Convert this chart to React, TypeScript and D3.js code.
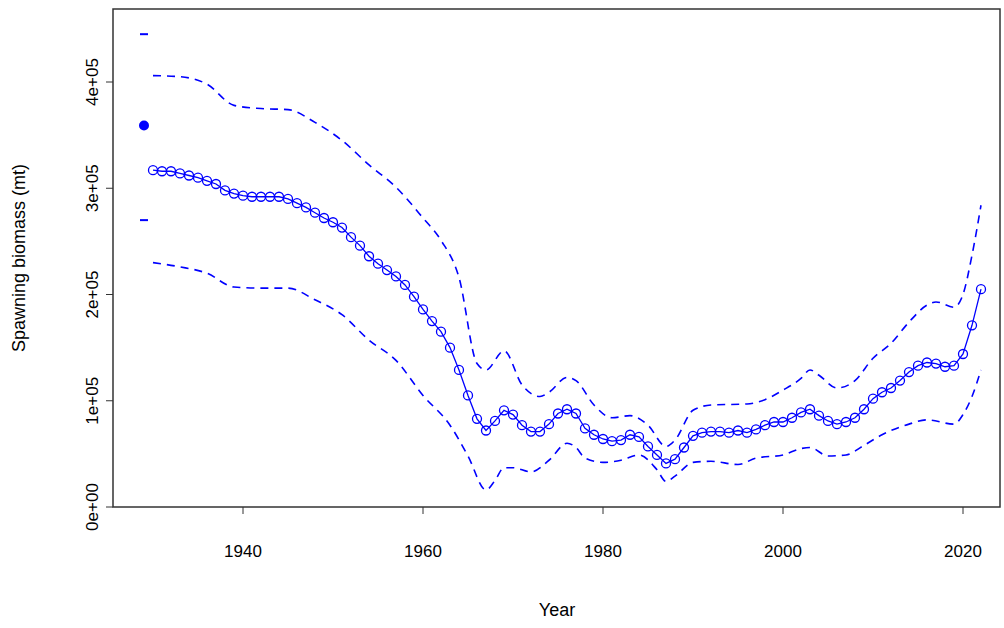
import React from 'react';
import * as d3 from 'd3';

const years = d3.range(1930, 2023);
const biomass = [
  317, 316, 316, 314, 312, 310, 307, 304, 298, 295,
  293, 292, 292, 292, 292, 290, 286, 282, 277, 272,
  268, 263, 254, 246, 236, 229, 223, 217, 209, 198,
  186, 175, 165, 150, 129, 105, 83, 72, 81, 91,
  87, 77, 71, 71, 78, 88, 92, 88, 74, 68,
  64, 62, 63, 68, 66, 57, 49, 41, 45, 56,
  67, 70, 71, 71, 70, 72, 70, 73, 77, 80,
  80, 84, 89, 92, 86, 81, 78, 80, 84, 92,
  102, 108, 112, 119, 127, 133, 136, 135, 132, 133,
  144, 171, 205,
];
const upperYears = [1930, 1933, 1936, 1939, 1942, 1945, 1948, 1951, 1954, 1957, 1960, 1962, 1964, 1966, 1967, 1969, 1971, 1973, 1974, 1976, 1977, 1979, 1981, 1983, 1985, 1987, 1988, 1990, 1992, 1996, 1998, 2000, 2002, 2003, 2004, 2006, 2008, 2010, 2012, 2014, 2016, 2017, 2019, 2020, 2021, 2022];
const upper = [406, 405, 398, 378, 375, 374, 362, 345, 322, 301, 272, 251, 216, 135, 129, 147, 115, 104, 108, 122, 119, 96, 84, 86, 77, 57, 63, 91, 96, 97, 101, 110, 121, 129, 124, 112, 119, 140, 154, 174, 190, 193, 188, 200, 237, 284];
const lowerYears = [1930, 1933, 1936, 1939, 1942, 1945, 1948, 1951, 1954, 1957, 1960, 1963, 1965, 1967, 1968, 1969, 1970, 1972, 1974, 1976, 1977, 1978, 1980, 1982, 1984, 1986, 1987, 1988, 1990, 1992, 1995, 1997, 2000, 2002, 2003, 2005, 2007, 2009, 2011, 2014, 2016, 2019, 2020, 2021, 2022];
const lower = [230, 226, 220, 207, 206, 206, 195, 181, 157, 138, 105, 77, 48, 16, 25, 37, 37, 33, 44, 60, 56, 46, 42, 44, 49, 35, 24, 29, 42, 43, 40, 46, 49, 55, 56, 48, 49, 58, 68, 78, 82, 78, 87, 104, 129];
const unfished = { year: 1929, value: 359, lo: 270, hi: 445 };
const xTicks = [1940, 1960, 1980, 2000, 2020];
const yTicks = [0, 100, 200, 300, 400];

const blue = '#0000ff';

export default function App() {
  const x = d3.scaleLinear().domain([1940, 2020]).range([243, 963]);
  const y = d3.scaleLinear().domain([0, 400]).range([507, 82]);
  const solid = d3.line<number>().x((_, i) => x(years[i])).y((d) => y(d));
  const band = (ys: number[]) =>
    d3.line<number>().curve(d3.curveMonotoneX).x((_, i) => x(ys[i])).y((d) => y(d));

  return (
    <svg width={1004} height={628} style={{ position: 'absolute', left: 0, top: 0, fontFamily: 'Liberation Sans, Arial, sans-serif' }}>
      <rect x={113} y={9} width={887} height={498} fill="none" stroke="#333" strokeWidth={1.5} />
      {yTicks.map((t) => (
        <g key={t}>
          <line x1={106} x2={113} y1={y(t)} y2={y(t)} stroke="#333" />
          <text transform={`translate(98,${y(t)}) rotate(-90)`} textAnchor="middle" fontSize={17}>
            {t === 0 ? '0e+00' : `${t / 100}e+05`}
          </text>
        </g>
      ))}
      {xTicks.map((t) => (
        <g key={t}>
          <line x1={x(t)} x2={x(t)} y1={507} y2={514} stroke="#333" />
          <text x={x(t)} y={557} textAnchor="middle" fontSize={17}>{t}</text>
        </g>
      ))}
      <text x={557} y={616} textAnchor="middle" fontSize={18}>Year</text>
      <text transform="translate(25,258) rotate(-90)" textAnchor="middle" fontSize={18}>Spawning biomass (mt)</text>

      <path d={band(upperYears)(upper) ?? ''} fill="none" stroke={blue} strokeWidth={1.6} strokeDasharray="8,6" />
      <path d={band(lowerYears)(lower) ?? ''} fill="none" stroke={blue} strokeWidth={1.6} strokeDasharray="8,6" />
      <path d={solid(biomass) ?? ''} fill="none" stroke={blue} strokeWidth={1.3} />
      {biomass.map((v, i) => (
        <circle key={i} cx={x(years[i])} cy={y(v)} r={4.5} fill="none" stroke={blue} strokeWidth={1.3} />
      ))}
      <circle cx={x(unfished.year)} cy={y(unfished.value)} r={5} fill={blue} />
      {[unfished.lo, unfished.hi].map((v) => (
        <line key={v} x1={x(unfished.year) - 4} x2={x(unfished.year) + 4} y1={y(v)} y2={y(v)} stroke={blue} strokeWidth={2} />
      ))}
    </svg>
  );
}
